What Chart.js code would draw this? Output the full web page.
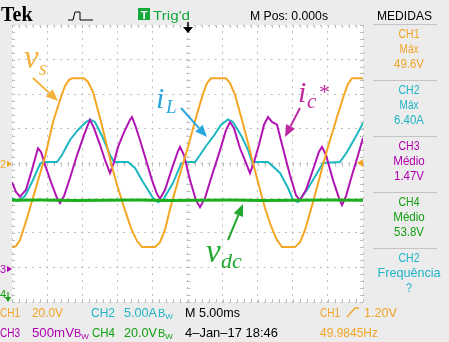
<!DOCTYPE html>
<html>
<head>
<meta charset="utf-8">
<script src="https://cdn.jsdelivr.net/npm/chart.js@4.4.0/dist/chart.umd.min.js"></script>
<style>
  html, body { margin: 0; padding: 0; background: #ececec; }
  #wrap { position: relative; width: 449px; height: 342px; overflow: hidden; }
  canvas, svg { position: absolute; left: 0; top: 0; }
</style>
</head>
<body>
<div id="wrap">
  <canvas id="scope" width="449" height="342"></canvas>
  <svg id="overlay" width="449" height="342" xmlns="http://www.w3.org/2000/svg"></svg>
</div>
<script>
// time axis in ms (10 div x 5 ms)
const timeMin = 0, timeMax = 50;

// CH1 v_s (V), 20 V/div
const vsTime = [0,0.57,1.14,2.14,3.56,4.70,5.84,6.84,7.55,8.12,8.55,10.26,10.83,11.54,12.54,13.39,14.10,14.96,15.95,16.95,17.81,18.52,20.37,21.08,21.79,22.51,23.93,25.07,26.35,27.21,27.78,28.35,30.48,31.05,31.77,32.76,33.62,34.33,35.19,36.04,36.89,37.75,38.46,40.31,41.03,41.74,42.88,44.30,45.01,46.30,47.29,47.86,48.43,50];
const vsVolts = [-48.3,-47.7,-44.2,-31.5,-11.8,3.8,24.0,36.7,44.8,48.3,49.2,49.2,47.1,41.3,26.3,12.4,0.3,-12.4,-25.1,-37.3,-44.8,-48.3,-48.3,-45.4,-38.4,-26.3,-6.1,9.5,28.6,40.2,46.5,49.2,49.2,46.5,39.6,25.1,11.8,0.3,-13.0,-25.7,-36.1,-44.2,-48.3,-48.3,-45.4,-38.4,-22.3,-0.9,9.5,26.9,39.6,46.0,49.2,49.2];

// CH2 i_L (A), 5 A/div
const ilTime = [0,0.85,1.85,2.99,3.99,4.42,6.41,7.12,8.26,9.40,10.54,11.11,11.82,12.96,13.96,14.53,16.52,17.52,18.66,20.09,20.80,21.51,22.93,24.07,24.50,26.07,26.78,27.64,28.63,29.77,30.77,31.48,32.76,33.62,34.19,36.47,38.18,39.32,40.03,40.74,42.02,43.30,44.30,46.72,47.72,48.86,50];
const ilAmps = [-4.99,-5.42,-4.70,-2.38,-0.07,0.22,0.22,1.23,3.40,4.84,6.0,6.35,6.0,3.68,1.23,0.22,0.22,-0.65,-2.67,-4.99,-5.56,-5.27,-2.82,-0.07,0.22,0.22,1.23,2.53,3.83,5.56,6.35,6.0,3.83,1.95,0.22,0.22,-1.37,-3.54,-5.27,-5.56,-3.83,-1.66,0.07,0.22,1.66,3.68,5.85];

// CH3 i_c* (V), 500 mV/div
const icTime = [0,0.57,1.14,1.99,2.85,3.42,3.70,4.13,4.70,5.70,6.41,6.84,7.41,8.26,9.26,10.26,10.83,11.11,11.68,12.54,13.25,13.96,14.53,15.10,15.95,16.81,17.09,17.52,18.23,19.09,19.94,20.66,21.08,21.80,22.79,23.65,23.93,24.50,25.36,26.21,26.78,27.49,28.49,29.63,30.48,31.05,31.62,32.48,33.33,33.90,34.47,35.19,35.90,36.47,37.04,37.75,38.60,39.60,40.46,41.03,41.88,42.88,43.73,44.16,44.73,45.73,46.58,47.01,47.58,48.43,49.29,50];
const icVolts = [1.23,1.09,1.02,1.12,1.41,1.62,1.72,1.67,1.48,1.19,1.00,0.93,1.03,1.29,1.62,1.91,2.06,2.13,2.01,1.77,1.55,1.36,1.52,1.74,1.95,2.13,2.17,2.06,1.84,1.55,1.26,1.06,0.99,1.12,1.43,1.68,1.74,1.62,1.26,0.97,0.87,1.00,1.33,1.69,1.98,2.10,2.01,1.72,1.51,1.36,1.52,1.77,2.06,2.17,2.10,2.06,1.72,1.33,1.04,0.97,1.12,1.41,1.67,1.74,1.62,1.26,1.00,0.90,1.03,1.33,1.62,1.87];

// CH4 v_dc (V), 20 V/div
const vdcTime = [0,4,9,13,18,22,27,31,36,40,45,50];
const vdcVolts = [53.8,53.9,53.7,53.8,53.9,53.7,53.8,53.9,53.7,53.8,53.9,53.8];

// readouts
const measures = [
  ['CH1', 'Máx', '49.6V', '#f0a526'],
  ['CH2', 'Máx', '6.40A', '#1fb4c6'],
  ['CH3', 'Médio', '1.47V', '#b000b0'],
  ['CH4', 'Médio', '53.8V', '#12a012'],
  ['CH2', 'Frequência', '?', '#1fb4c6']
];

const orange = '#f5a623', cyan = '#1db7c2', magenta = '#b214b4', green = '#1bb01b';
const gridColor = '#bdbdbd';

function pairs(xs, ys) {
  return xs.map((t, i) => ({ x: t, y: ys[i] }));
}

// white screen + graticule ticks
const scopeFace = {
  id: 'scopeFace',
  beforeDraw(chart) {
    const { ctx, chartArea: a } = chart;
    ctx.save();
    ctx.fillStyle = '#ffffff';
    ctx.fillRect(a.left, a.top, a.right - a.left, a.bottom - a.top);
    ctx.restore();
  },
  beforeDatasetsDraw(chart) {
    const { ctx, chartArea: a } = chart;
    const xs = chart.scales.x, ys = chart.scales.yg;
    const cx = Math.round(xs.getPixelForValue(25)) + 0.5;
    const cy = Math.round(ys.getPixelForValue(0)) + 0.5;
    ctx.save();
    ctx.strokeStyle = gridColor;
    ctx.lineWidth = 1;
    ctx.beginPath();
    for (let t = timeMin; t <= timeMax; t += 1) {
      const px = Math.round(xs.getPixelForValue(t)) + 0.5;
      ctx.moveTo(px, a.top); ctx.lineTo(px, a.top + 3);
      ctx.moveTo(px, a.bottom - 3); ctx.lineTo(px, a.bottom);
      ctx.moveTo(px, cy - 2); ctx.lineTo(px, cy + 2);
    }
    for (let d = -20; d <= 20; d++) {
      const py = Math.round(ys.getPixelForValue(d / 5)) + 0.5;
      ctx.moveTo(a.left, py); ctx.lineTo(a.left + 3, py);
      ctx.moveTo(a.right - 3, py); ctx.lineTo(a.right, py);
      ctx.moveTo(cx - 2, py); ctx.lineTo(cx + 2, py);
    }
    ctx.stroke();
    ctx.restore();
  }
};

const ctx = document.getElementById('scope').getContext('2d');
const chart = new Chart(ctx, {
  type: 'line',
  data: {
    datasets: [
      { label: 'vdc', data: pairs(vdcTime, vdcVolts), yAxisID: 'y4', borderColor: green, borderWidth: 3, order: 1 },
      { label: 'vs', data: pairs(vsTime, vsVolts), yAxisID: 'y1', borderColor: orange, borderWidth: 2, order: 2 },
      { label: 'ic', data: pairs(icTime, icVolts), yAxisID: 'y3', borderColor: magenta, borderWidth: 2, order: 3 },
      { label: 'iL', data: pairs(ilTime, ilAmps), yAxisID: 'y2', borderColor: cyan, borderWidth: 2, order: 4 }
    ]
  },
  options: {
    responsive: false,
    animation: false,
    devicePixelRatio: 1,
    layout: { padding: { left: 12, top: 25, right: 86, bottom: 40 } },
    plugins: { legend: { display: false }, tooltip: { enabled: false } },
    elements: { point: { radius: 0 }, line: { tension: 0, fill: false } },
    scales: {
      x: {
        type: 'linear', min: timeMin, max: timeMax,
        ticks: { display: false, stepSize: 5 },
        grid: { color: gridColor, drawTicks: false },
        border: { display: false, dash: [2, 4.92], dashOffset: 1 },
        afterFit(s) { s.height = 0; }
      },
      yg: {
        type: 'linear', position: 'left', min: -4, max: 4,
        ticks: { display: false, stepSize: 1 },
        grid: { color: gridColor, drawTicks: false },
        border: { display: false, dash: [2, 5.02], dashOffset: 1 },
        afterFit(s) { s.width = 0; }
      },
      y1: { display: false, min: -80, max: 80 },
      y2: { display: false, min: -20, max: 20 },
      y3: { display: false, min: -0.5, max: 3.5 },
      y4: { display: false, min: -5, max: 155 }
    }
  },
  plugins: [scopeFace]
});

// ---- overlay texts ----
const svg = document.getElementById('overlay');
const NS = 'http://www.w3.org/2000/svg';

function txt(s, x, y, o) {
  o = o || {};
  const el = document.createElementNS(NS, 'text');
  el.setAttribute('x', x);
  el.setAttribute('y', y);
  el.setAttribute('fill', o.fill || '#000');
  el.setAttribute('font-family', o.family || 'Liberation Sans, Arial, sans-serif');
  el.setAttribute('font-size', o.size || 13.5);
  if (o.weight) el.setAttribute('font-weight', o.weight);
  if (o.italic) el.setAttribute('font-style', 'italic');
  if (o.anchor) el.setAttribute('text-anchor', o.anchor);
  if (o.len) { el.setAttribute('textLength', o.len); el.setAttribute('lengthAdjust', 'spacingAndGlyphs'); }
  el.textContent = s;
  svg.appendChild(el);
  return el;
}

function shape(tag, attrs) {
  const el = document.createElementNS(NS, tag);
  for (const k in attrs) el.setAttribute(k, attrs[k]);
  svg.appendChild(el);
  return el;
}

function arrow(x1, y1, x2, y2, color) {
  const ang = Math.atan2(y2 - y1, x2 - x1);
  const hl = 12, hw = 5;
  const bx = x2 - hl * Math.cos(ang), by = y2 - hl * Math.sin(ang);
  shape('line', { x1: x1, y1: y1, x2: bx, y2: by, stroke: color, 'stroke-width': 2 });
  const p = [
    [x2, y2],
    [bx + hw * Math.sin(ang), by - hw * Math.cos(ang)],
    [bx - hw * Math.sin(ang), by + hw * Math.cos(ang)]
  ].map(q => q.join(',')).join(' ');
  shape('polygon', { points: p, fill: color });
}

function bw(x, y, color) {
  const el = txt('B', x, y, { fill: color, size: 11 });
  const w = document.createElementNS(NS, 'tspan');
  w.setAttribute('font-size', 8);
  w.setAttribute('dy', 2);
  w.textContent = 'W';
  el.appendChild(w);
}

// header
txt('Tek', 1, 21, { family: 'Liberation Serif, Times New Roman, serif', weight: 'bold', size: 20 });
shape('polyline', { points: '68,20 73,20 75,12 80,12 80,20 93,20', fill: 'none', stroke: '#000', 'stroke-width': 1, 'stroke-dasharray': '' });
shape('rect', { x: 138, y: 8, width: 12, height: 12, fill: '#12a83a' });
txt('T', 144, 18.5, { fill: '#fff', size: 11, weight: 'bold', anchor: 'middle' });
txt("Trig'd", 153, 19.5, { fill: '#12a83a', len: 37 });
txt('M Pos: 0.000s', 250, 20, { len: 78 });
txt('MEDIDAS', 377, 20, { len: 55 });

// trigger position marker
shape('line', { x1: 188, y1: 22, x2: 188, y2: 28, stroke: '#000', 'stroke-width': 1.5 });
shape('polygon', { points: '183,27 193,27 188,33', fill: '#000' });

// right panel
const sepY = [24, 80, 136, 192, 248];
sepY.forEach(y => shape('line', { x1: 373, y1: y + 0.5, x2: 437, y2: y + 0.5, stroke: '#c4c4c4', 'stroke-width': 1 }));
measures.forEach((m, i) => {
  const top = 24 + i * 56;
  txt(m[0], 409, top + 14, { fill: m[3], anchor: 'middle', len: 21 });
  txt(m[1], 409, top + 29, { fill: m[3], anchor: 'middle', len: m[1].length * 6.3 });
  txt(m[2], 409, top + 44, { fill: m[3], anchor: 'middle', len: m[2] === '?' ? 6 : 30 });
});

// footer
const fOr = '#f0a526', fCy = '#1fb4c6', fMg = '#b000b0', fGr = '#12a012';
txt('CH1', 0, 317, { fill: fOr, len: 20 });
txt('20.0V', 32, 317, { fill: fOr, len: 31 });
txt('CH2', 91, 317, { fill: fCy, len: 24 });
txt('5.00A', 124, 317, { fill: fCy, len: 33 });
bw(158, 317, fCy);
txt('M 5.00ms', 185, 317, { len: 55 });
txt('CH1', 320, 317, { fill: fOr, len: 20 });
shape('polyline', { points: '347,317 355,308 359,308', fill: 'none', stroke: fOr, 'stroke-width': 1.3 });
txt('1.20V', 364, 317, { fill: fOr, len: 33 });

txt('CH3', 0, 337, { fill: fMg, len: 20 });
txt('500mV', 32, 337, { fill: fMg, len: 42 });
bw(74, 337, fMg);
txt('CH4', 92, 337, { fill: fGr, len: 23 });
txt('20.0V', 124, 337, { fill: fGr, len: 33 });
bw(158, 337, fGr);
txt('4\u2013Jan\u201317 18:46', 185, 337, { len: 93 });
txt('49.9845Hz', 320, 337, { fill: fOr, len: 58 });

// channel ground markers
txt('2', 0, 168, { fill: fOr, size: 11 });
shape('polygon', { points: '7,161 12,164 7,167', fill: fOr });
txt('3', 0, 273, { fill: fMg, size: 11 });
shape('polygon', { points: '7,266 12,269 7,272', fill: fMg });
txt('4', 0, 298, { fill: fGr, size: 11 });
shape('line', { x1: 8, y1: 292, x2: 8, y2: 298, stroke: fGr, 'stroke-width': 1.2 });
shape('polygon', { points: '5,297 11,297 8,302', fill: fGr });
// trigger level marker
shape('polygon', { points: '363,159 357,163 363,167', fill: orange });

// waveform labels
const serif = 'Liberation Serif, Times New Roman, serif';
txt('v', 24, 68, { fill: '#f4b13c', family: serif, italic: true, size: 33 });
txt('s', 39, 75, { fill: '#f4b13c', family: serif, italic: true, size: 20 });
arrow(33, 78, 58, 101, '#f4b13c');

txt('i', 156, 108, { fill: '#2aa6df', family: serif, italic: true, size: 30 });
txt('L', 166, 113, { fill: '#2aa6df', family: serif, italic: true, size: 19 });
arrow(181, 108, 207, 137, '#2aa6df');

txt('i', 298, 102, { fill: '#bf2aa3', family: serif, italic: true, size: 30 });
txt('c', 307, 108, { fill: '#bf2aa3', family: serif, italic: true, size: 21 });
txt('*', 319, 99, { fill: '#bf2aa3', family: serif, size: 22 });
arrow(300, 108, 285, 137, '#bf2aa3');

txt('v', 206, 262, { fill: '#22a830', family: serif, italic: true, size: 33 });
txt('dc', 221, 268, { fill: '#22a830', family: serif, italic: true, size: 22 });
arrow(228, 240, 243, 204, '#22a830');
</script>
</body>
</html>
